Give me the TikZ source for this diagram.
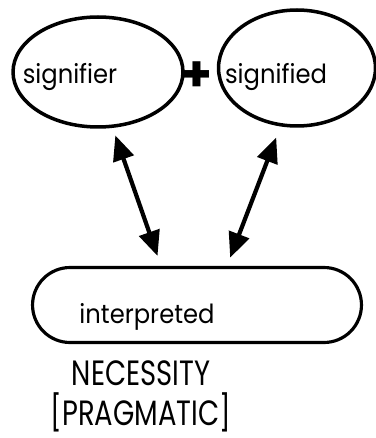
\documentclass[tikz,border=0pt]{standalone}
\usepackage{fontspec}
\setmainfont{Poppins}
\newfontfamily\narrowfont[FakeStretch=0.92]{Poppins}
\newfontfamily\capsfont[FakeStretch=0.78]{Poppins}
\usetikzlibrary{shapes.geometric, arrows.meta, calc, positioning}

\begin{document}
\begin{tikzpicture}[x=0.02cm,y=-0.02cm,
  oval/.style={draw, ellipse, line width=2pt, inner sep=0pt},
  pill/.style={draw, rectangle, rounded corners=0.75cm, line width=1.8pt,
    minimum width=6.58cm, minimum height=1.5cm},
  word/.style={font=\narrowfont\fontsize{15}{17}\selectfont},
  caps/.style={font=\capsfont\fontsize{20}{22}\selectfont, inner sep=0pt},
  dbl/.style={{Triangle[length=0.5cm,width=0.42cm]}-{Triangle[length=0.5cm,width=0.42cm]}, line width=2.4pt}]
  \useasboundingbox (0,0) rectangle (375,438);

  \node[oval, minimum width=3.4cm, minimum height=2.2cm,
    label={[word, xshift=-0.56cm, yshift=-0.1cm]center:signifier}] (sr) at (98,72) {};
  \node[oval, minimum width=3.14cm, minimum height=2.32cm,
    label={[word, xshift=-0.42cm, yshift=-0.18cm]center:signified}] (sd) at (297,68) {};
  \node[font=\fontsize{28}{28}\selectfont\bfseries, inner sep=0pt] (plus) at (197,77) {+};

  \node[pill, label={[word, xshift=-1.0cm, yshift=-0.24cm]center:interpreted}] (int) at (197,305) {};

  \node[caps] (nec) at (141,373) {NECESSITY};
  \node[caps] (prag) [below=0.12cm of nec] {[PRAGMATIC]};

  \draw[dbl, shorten <=4pt, shorten >=6pt] ($(sr.south)+(15,0)$) -- ($(int.north)+(-36,0)$);
  \draw[dbl, shorten <=6pt, shorten >=5pt] ($(sd.south)+(-17,0)$) -- ($(int.north)+(30,0)$);
\end{tikzpicture}
\end{document}
